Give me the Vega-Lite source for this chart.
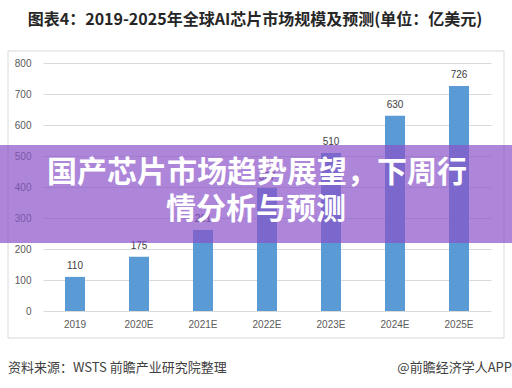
{
  "$schema": "https://vega.github.io/schema/vega-lite/v6.json",
  "width": 448,
  "height": 248,
  "autosize": {"type": "none"},
  "padding": {"left": 43, "top": 63, "right": 21, "bottom": 77},
  "background": "#ffffff",
  "config": {
    "view": {"stroke": null},
    "font": "Noto Sans CJK SC"
  },
  "data": {"values": [
    {"year": "2019", "value": 110},
    {"year": "2020E", "value": 175},
    {"year": "2021E", "value": 261},
    {"year": "2022E", "value": 397},
    {"year": "2023E", "value": 510},
    {"year": "2024E", "value": 630},
    {"year": "2025E", "value": 726}
  ]},
  "encoding": {
    "x": {"field": "year", "type": "ordinal", "sort": null,
      "scale": {"paddingInner": 0, "paddingOuter": 0},
      "axis": {"title": null, "labelAngle": 0, "ticks": false, "domain": false,
        "labelFont": "Liberation Sans", "labelFontSize": 10, "labelColor": "#595959", "labelPadding": 8}},
    "y": {"field": "value", "type": "quantitative",
      "scale": {"domain": [0, 800], "nice": false},
      "axis": {"title": null, "values": [0,100,200,300,400,500,600,700,800], "ticks": false, "domain": false,
        "labelOverlap": false, "labelFlush": false,
        "gridColor": "#d9d9d9", "labelFont": "Liberation Sans", "labelFontSize": 10, "labelColor": "#595959", "labelPadding": 12}}
  },
  "layer": [
    {
      "mark": {"type": "bar", "size": 20, "color": "#5b9bd5"}
    },
    {
      "mark": {"type": "text", "baseline": "bottom", "dy": -6, "fontSize": 10, "font": "Liberation Sans", "color": "#404040"},
      "encoding": {
        "text": {"field": "value", "type": "quantitative"}
      }
    },
    {
      "data": {"values": [{"a": 1}]},
      "mark": {"type": "rect", "fill": null, "stroke": "#d9d9d9", "strokeWidth": 1},
      "encoding": {
        "x": {"value": -35}, "x2": {"value": 461},
        "y": {"value": -12}, "y2": {"value": 275}
      }
    },
    {
      "data": {"values": [{"t": "图表4：2019-2025年全球AI芯片市场规模及预测(单位：亿美元)"}]},
      "mark": {"type": "text", "fontSize": 16, "fontWeight": "bold", "color": "#262626", "align": "center", "baseline": "middle"},
      "encoding": {"x": {"value": 212}, "y": {"value": -43}, "text": {"field": "t"}}
    },
    {
      "data": {"values": [{"t": "资料来源：WSTS 前瞻产业研究院整理"}]},
      "mark": {"type": "text", "fontSize": 13, "color": "#404040", "align": "left", "baseline": "middle"},
      "encoding": {"x": {"value": -35}, "y": {"value": 305}, "text": {"field": "t"}}
    },
    {
      "data": {"values": [{"t": "@前瞻经济学人APP"}]},
      "mark": {"type": "text", "fontSize": 13, "color": "#404040", "align": "right", "baseline": "middle"},
      "encoding": {"x": {"value": 469}, "y": {"value": 305}, "text": {"field": "t"}}
    },
    {
      "data": {"values": [{"a": 1}]},
      "mark": {"type": "rect", "fill": "#8a52c9", "opacity": 0.7},
      "encoding": {
        "x": {"value": -43}, "x2": {"value": 469},
        "y": {"value": 82}, "y2": {"value": 180}
      }
    },
    {
      "data": {"values": [{"t": "国产芯片市场趋势展望，下周行"}]},
      "mark": {"type": "text", "fontSize": 30, "fontWeight": "bold", "color": "#ffffff", "align": "center", "baseline": "middle"},
      "encoding": {"x": {"value": 214}, "y": {"value": 110}, "text": {"field": "t"}}
    },
    {
      "data": {"values": [{"t": "情分析与预测"}]},
      "mark": {"type": "text", "fontSize": 30, "fontWeight": "bold", "color": "#ffffff", "align": "center", "baseline": "middle"},
      "encoding": {"x": {"value": 213}, "y": {"value": 147}, "text": {"field": "t"}}
    }
  ]
}
